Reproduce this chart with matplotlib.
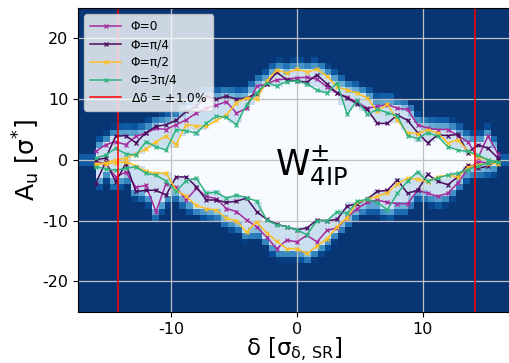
import numpy as np
import matplotlib
matplotlib.use('Agg')
import matplotlib.pyplot as plt

plt.rcParams['axes.unicode_minus'] = False

# delta grid (sigma_delta,SR units) of the aperture scan
delta = np.arange(-16.0, 16.01, 0.8)

# upper / lower amplitude limits [sigma*] for each phase
up_0 = [1.4, 2.5, 3.0, 2.5, 3.9, 4.4, 5.2, 5.0, 5.8, 6.6, 7.7, 8.5, 9.0, 9.6, 7.7, 8.5, 12.1, 12.5, 13.2, 13.3, 13.5,
        13.6, 13.3, 12.0, 11.0, 10.3, 9.5, 8.5, 8.8, 9.1, 8.5, 8.3, 5.8, 5.2, 5.0, 5.0, 4.0, 3.0, 0.3, 3.9, 1.0]
lo_0 = [-0.3, -0.6, -2.8, -2.0, -4.5, -4.2, -8.5, -3.9, -4.5, -6.6, -4.7, -6.0, -6.4, -8.0, -8.5, -9.9, -11.0, -12.7,
        -14.6, -13.2, -13.5, -12.4, -13.5, -11.6, -11.2, -9.5, -8.0, -7.0, -6.6, -7.0, -7.2, -7.2, -5.0, -5.5, -6.0,
        -5.5, -3.8, -1.5, -0.3, -0.5, -0.3]
up_pi4 = [0.0, 0.3, 3.9, 4.0, 2.8, 4.5, 5.5, 5.8, 6.5, 8.0, 8.8, 10.5, 10.0, 10.5, 10.0, 10.2, 10.9, 12.5, 14.4, 13.2,
          13.0, 12.8, 14.0, 12.5, 11.0, 10.2, 9.2, 8.3, 6.0, 6.0, 7.4, 6.5, 4.5, 2.8, 4.1, 4.0, 4.2, 1.2, 2.5, 1.9, 0.3]
lo_pi4 = [-3.9, -0.3, -3.6, -0.6, -5.2, -5.0, -5.0, -5.8, -2.8, -2.8, -4.4, -6.6, -6.6, -7.0, -6.8, -6.3, -8.5, -9.8,
          -10.6, -11.0, -11.5, -11.2, -9.9, -10.0, -9.8, -7.6, -7.2, -6.4, -5.2, -5.0, -3.3, -5.5, -5.0, -2.4, -3.5,
          -4.1, -2.8, -0.8, -1.4, -1.0, 0.0]
up_pi2 = [-0.8, -0.5, 0.0, 0.3, 1.0, 1.8, 3.0, 3.9, 2.5, 5.8, 5.6, 5.5, 6.5, 7.4, 9.4, 10.2, 10.0, 13.0, 14.8, 14.3,
          14.9, 14.5, 14.9, 13.8, 12.0, 11.5, 11.0, 10.2, 8.0, 9.2, 6.5, 4.5, 4.3, 5.0, 4.4, 2.8, 3.3, 1.5, 0.5, 0.0, -0.3]
lo_pi2 = [-0.6, -0.6, -0.5, -0.3, -1.0, -1.9, -2.2, -2.2, -5.0, -6.0, -7.5, -8.0, -8.3, -9.6, -10.0, -11.9, -10.2,
          -12.0, -13.4, -14.6, -14.6, -15.4, -14.2, -13.0, -11.0, -9.5, -7.0, -6.5, -6.0, -5.4, -4.0, -3.0, -3.2, -3.6,
          -2.8, -2.5, -2.8, -1.2, -0.8, -0.6, -0.6]
up_3pi4 = [0.3, 0.8, 1.9, 1.0, 0.8, 3.0, 2.2, 1.6, 5.0, 4.8, 4.4, 6.0, 7.2, 7.0, 5.8, 9.1, 11.0, 12.7, 12.2, 12.9,
           13.0, 12.5, 11.5, 11.0, 12.7, 7.5, 9.8, 7.5, 8.3, 7.8, 7.2, 4.0, 3.5, 4.5, 3.9, 2.2, 1.6, 1.4, 0.8, 0.0, -0.3]
lo_3pi4 = [-1.1, -1.5, -1.7, -1.4, -1.1, -2.2, -2.5, -3.5, -5.2, -3.4, -3.0, -5.5, -5.3, -6.3, -5.8, -6.2, -6.8, -9.9,
           -10.7, -11.0, -11.5, -12.3, -10.0, -10.0, -8.5, -8.8, -6.8, -6.5, -7.0, -8.2, -5.5, -3.5, -2.0, -3.5, -3.0,
           -2.5, -2.2, -1.6, -1.0, -0.5, -0.3]

labels = ['Φ=0', 'Φ=π/4', 'Φ=π/2', 'Φ=3π/4']
colors = ['#a52a9c', '#4a0c5e', '#fbbf24', '#2eb37f']
uppers = [up_0, up_pi4, up_pi2, up_3pi4]
lowers = [lo_0, lo_pi4, lo_pi2, lo_3pi4]
dd_lim = 14.2  # momentum acceptance +-1.0%

# background density: empty inside the aperture, dense outside
xe = np.linspace(-17.6, 17.6, 65)
ye = np.linspace(-25, 25, 51)
xc = 0.5 * (xe[1:] + xe[:-1])
yc = 0.5 * (ye[1:] + ye[:-1])
U = np.array(uppers); L = np.array(lowers)
hi_out = np.interp(xc, delta, U.max(0), left=-1, right=-1)
hi_in = np.interp(xc, delta, U.min(0), left=-1, right=-1)
lo_out = np.interp(xc, delta, L.min(0), left=1, right=1)
lo_in = np.interp(xc, delta, L.max(0), left=1, right=1)
Y = yc[:, None]
d_up = Y - hi_out[None, :]
d_lo = lo_out[None, :] - Y
dist = np.maximum(d_up, d_lo)
H = np.clip(0.4 + dist / 3.5, 0.4, 0.98)
inside = (Y <= hi_in[None, :]) & (Y >= lo_in[None, :])
H[dist <= 0] = 0.22
H[inside] = 0.0

fig = plt.figure(figsize=(5.1, 3.63), dpi=100)
ax = fig.add_axes([0.153, 0.141, 0.847, 0.837])
ax.pcolormesh(xe, ye, H, cmap='Blues', vmin=0, vmax=1, zorder=0)

for lab, c, u, l in zip(labels, colors, uppers, lowers):
    ax.plot(delta, u, color=c, marker='x', ms=3, mew=0.9, lw=1.1, label=lab)
    ax.plot(delta, l, color=c, marker='x', ms=3, mew=0.9, lw=1.1)

ax.axvline(-dd_lim, color='red', lw=1.1, label='Δδ = $\\pm$1.0%')
ax.axvline(dd_lim, color='red', lw=1.1)

ax.text(1.2, -1.0, r'W$^{\pm}_{\rm 4IP}$', fontsize=25, ha='center', va='center')

ax.set_xlim(-17.4, 16.95)
ax.set_ylim(-25, 25)
ax.set_xticks([-10, 0, 10])
ax.set_yticks([-20, -10, 0, 10, 20])
ax.tick_params(labelsize=11.5)
ax.grid(True, color='#c0c0c0', lw=0.9)
ax.set_xlabel(r'δ [σ$_{\rm δ,\,SR}$]', fontsize=16.5, labelpad=-1)
ax.set_ylabel(r'A$_{\rm u}$ [σ$^{*}$]', fontsize=18, labelpad=0)
ax.legend(loc='upper left', fontsize=8.8, framealpha=0.8, handlelength=2.5, borderpad=0.5, labelspacing=0.4)

fig.savefig('out.png', dpi=100)
